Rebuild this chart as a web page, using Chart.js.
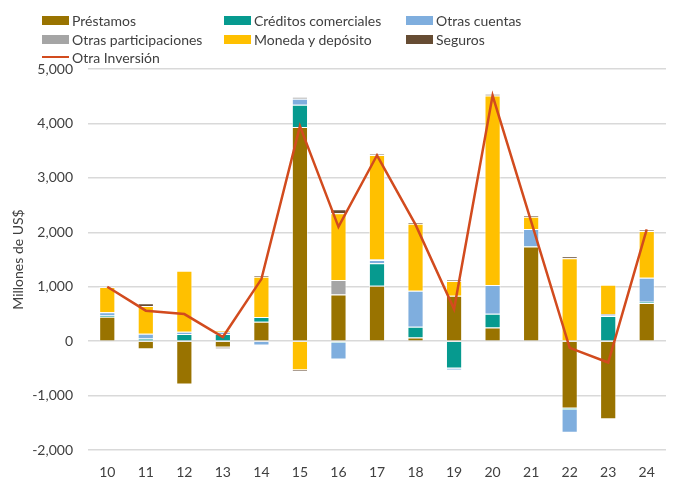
<!DOCTYPE html>
<html>
<head>
<meta charset="utf-8">
<script src="https://cdn.jsdelivr.net/npm/chart.js@4"></script>
<style>
  body { margin: 0; background: #fff; }
  #wrap { position: relative; width: 674px; height: 480px; }
  #legend { position: absolute; left: 0; top: 0; width: 674px; height: 66px;
            font-family: Lato, "Noto Sans", sans-serif; font-size: 14px; color: #404040; }
  .item { position: absolute; display: flex; align-items: center; white-space: nowrap; }
  .sw { width: 27px; height: 9px; margin-right: 3px; }
  .ln { width: 27px; height: 2.5px; margin-right: 3px; }
</style>
</head>
<body>
<div id="wrap">
  <canvas id="chart" width="674" height="480"></canvas>
  <div id="legend"></div>
</div>
<script>
// years (20xx)
const categories = ['10', '11', '12', '13', '14', '15', '16', '17', '18', '19', '20', '21', '22', '23', '24'];

// millones de US$
const prestamos     = [448, -147, -797, -117, 356, 3933, 859, 1018, 67, 834, 252, 1737, -1239, -1434, 699];
const creditos      = [25, 50, 129, 129, 86, 411, -30, 411, 196, -503, 252, 10, -25, 460, 25];
const otrasCuentas  = [60, 86, 43, 43, -80, 110, -307, 61, 663, -37, 528, 313, -417, 18, 441];
const otrasParticip = [0, 0, 0, 0, 0, 37, 264, 10, 0, 0, 0, 0, 0, 20, 0];
const moneda        = [460, 510, 1123, 30, 742, -534, 1227, 1920, 1233, 270, 3481, 227, 1522, 540, 858];
const seguros       = [0, 50, 0, -25, 30, -30, 74, 15, 25, 20, 25, 25, 37, 0, 18];
const otraInversion = [1000, 560, 497, 75, 1140, 3950, 2100, 3415, 2140, 590, 4512, 2200, -123, -392, 2052];

const yTicks = [-2000, -1000, 0, 1000, 2000, 3000, 4000, 5000];

const font = 'Lato, "Noto Sans", sans-serif';

const barSets = [
  { label: 'Préstamos', data: prestamos, color: '#997300' },
  { label: 'Créditos comerciales', data: creditos, color: '#069A8F' },
  { label: 'Otras cuentas', data: otrasCuentas, color: '#7FAEDE' },
  { label: 'Otras participaciones', data: otrasParticip, color: '#A5A5A5' },
  { label: 'Moneda y depósito', data: moneda, color: '#FFC000' },
  { label: 'Seguros', data: seguros, color: '#664C33' }
];
const lineColor = '#D24B1E';

const datasets = barSets.map(s => ({
  type: 'bar',
  label: s.label,
  data: s.data,
  backgroundColor: s.color,
  borderColor: 'rgba(255,255,255,0.55)',
  borderWidth: 1,
  categoryPercentage: 1,
  barPercentage: 0.42,
  stack: 'a',
  order: 1
}));
datasets.push({
  type: 'line',
  label: 'Otra Inversión',
  data: otraInversion,
  borderColor: lineColor,
  backgroundColor: lineColor,
  borderWidth: 2.5,
  pointRadius: 0,
  tension: 0,
  order: 0
});

new Chart(document.getElementById('chart'), {
  data: { labels: categories, datasets: datasets },
  options: {
    responsive: false,
    animation: false,
    layout: { padding: { top: 69, right: 8, left: 0, bottom: 0 } },
    plugins: { legend: { display: false }, tooltip: { enabled: false } },
    scales: {
      x: {
        stacked: true,
        grid: { display: false, drawTicks: false },
        border: { display: false },
        ticks: { color: '#404040', font: { family: font, size: 14 }, padding: 14 },
        afterFit: s => { s.height = 30; }
      },
      y: {
        stacked: true,
        min: -2000,
        max: 5000,
        afterBuildTicks: s => { s.ticks = yTicks.map(v => ({ value: v })); },
        grid: { color: '#D9D9D9', lineWidth: 1.5, drawTicks: false },
        border: { display: false },
        ticks: {
          color: '#404040',
          font: { family: font, size: 14 },
          padding: 15,
          callback: v => v.toLocaleString('en-US')
        },
        title: {
          display: true,
          text: 'Millones de US$',
          color: '#404040',
          font: { family: font, size: 14 },
          padding: { top: 10, bottom: 0 }
        },
        afterFit: s => { s.width = 88; }
      }
    }
  }
});

// legend, 3 columns like the original
const legendPos = [
  [42, 20], [224, 20], [406, 20],
  [42, 39], [224, 39], [406, 39],
  [42, 57]
];
const legendEl = document.getElementById('legend');
const items = barSets.map(s => ({ label: s.label, color: s.color, line: false }));
items.push({ label: 'Otra Inversión', color: lineColor, line: true });
items.forEach((it, i) => {
  const d = document.createElement('div');
  d.className = 'item';
  d.style.left = legendPos[i][0] + 'px';
  d.style.top = (legendPos[i][1] - 9) + 'px';
  d.style.height = '18px';
  const sw = document.createElement('span');
  sw.className = it.line ? 'ln' : 'sw';
  sw.style.background = it.color;
  const t = document.createElement('span');
  t.textContent = it.label;
  d.appendChild(sw);
  d.appendChild(t);
  legendEl.appendChild(d);
});
</script>
</body>
</html>
